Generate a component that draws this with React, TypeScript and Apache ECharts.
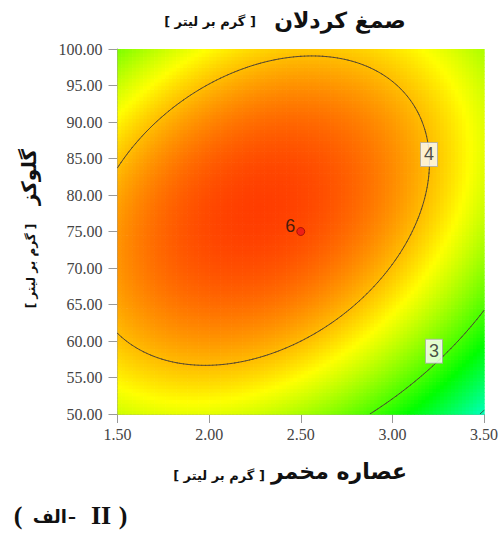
import React, { useEffect, useRef } from 'react';
import * as echarts from 'echarts';

// ---- data ----
const xRange = [1.5, 3.5]; // عصاره مخمر
const yRange = [50, 100]; // گلوکز
const xInterval = 0.5;
const yInterval = 5;
// quadratic response-surface model in coded units (A = x, B = y), estimated from contour shapes
const modelTerms = ['Intercept', 'A', 'B', 'AB', 'A2', 'B2'];
const modelCoeffs = [4.45, -0.347, 0.28, 0.443, -0.645, -0.78];
const contourLevels = [2, 3, 4];
const labeledLevels = [4, 3];
const labelAnchors = [
  [3.2, 85.55],
  [3.227, 58.6],
];
const designPoints = [[2.5, 75]];
const designPointCounts = [6];
const colorStops = ['#00ffff', '#00ff00', '#ffff00', '#ff0000'];
const colorMin = 1.7;
const colorMax = 4.75;

const N = 100;

function model(x: number, y: number) {
  const A = (x - (xRange[0] + xRange[1]) / 2) / ((xRange[1] - xRange[0]) / 2);
  const B = (y - (yRange[0] + yRange[1]) / 2) / ((yRange[1] - yRange[0]) / 2);
  const c = modelCoeffs;
  return c[0] + c[1] * A + c[2] * B + c[3] * A * B + c[4] * A * A + c[5] * B * B;
}

function buildData() {
  const dx = (xRange[1] - xRange[0]) / N;
  const dy = (yRange[1] - yRange[0]) / N;
  const cells: number[][] = [];
  for (let i = 0; i < N; i++) {
    for (let j = 0; j < N; j++) {
      const x = xRange[0] + (i + 0.5) * dx;
      const y = yRange[0] + (j + 0.5) * dy;
      cells.push([x, y, model(x, y)]);
    }
  }
  const nodes: number[][] = [];
  for (let i = 0; i <= N; i++) {
    nodes.push([]);
    for (let j = 0; j <= N; j++) {
      nodes[i].push(model(xRange[0] + i * dx, yRange[0] + j * dy));
    }
  }
  const segs: number[][] = [];
  for (const lv of contourLevels) {
    for (let i = 0; i < N; i++) {
      for (let j = 0; j < N; j++) {
        const x0 = xRange[0] + i * dx;
        const y0 = yRange[0] + j * dy;
        const corners = [
          [x0, y0, nodes[i][j]],
          [x0 + dx, y0, nodes[i + 1][j]],
          [x0 + dx, y0 + dy, nodes[i + 1][j + 1]],
          [x0, y0 + dy, nodes[i][j + 1]],
        ];
        const pts: number[][] = [];
        for (let k = 0; k < 4; k++) {
          const a = corners[k];
          const b = corners[(k + 1) % 4];
          if ((a[2] - lv) * (b[2] - lv) < 0) {
            const t = (lv - a[2]) / (b[2] - a[2]);
            pts.push([a[0] + t * (b[0] - a[0]), a[1] + t * (b[1] - a[1])]);
          }
        }
        if (pts.length >= 2) segs.push([pts[0][0], pts[0][1], pts[1][0], pts[1][1], lv]);
        if (pts.length === 4) segs.push([pts[2][0], pts[2][1], pts[3][0], pts[3][1], lv]);
      }
    }
  }
  return { cells, segs, dx, dy };
}

const arFont = 'DejaVu Sans';
const serifFont = 'Liberation Serif';
const sansFont = 'Liberation Sans';

function txt(x: number, y: number, text: string, font: string, size: number, rotation = 0, align = 'center') {
  return {
    type: 'text',
    x,
    y,
    rotation,
    silent: true,
    style: {
      text,
      fontFamily: font,
      fontSize: size,
      fontWeight: 'bold',
      fill: '#111',
      align,
      verticalAlign: 'middle',
    },
  };
}

export default function App() {
  const ref = useRef<HTMLDivElement>(null);
  useEffect(() => {
    if (!ref.current) return;
    const chart = echarts.init(ref.current, undefined, { renderer: 'svg' });
    const { cells, segs, dx, dy } = buildData();
    const axisLabel = {
      fontFamily: serifFont,
      fontSize: 16,
      color: '#444',
      formatter: (v: number) => v.toFixed(2),
    };
    chart.setOption({
      animation: false,
      backgroundColor: '#ffffff',
      textStyle: { fontFamily: serifFont },
      grid: { left: 117.5, top: 49, right: 19, bottom: 123 },
      xAxis: {
        type: 'value',
        min: xRange[0],
        max: xRange[1],
        interval: xInterval,
        axisLine: { show: true, lineStyle: { color: '#999', width: 1 } },
        axisTick: { show: true, length: 9, lineStyle: { color: '#999' } },
        axisLabel: { ...axisLabel, margin: 12 },
        splitLine: { show: false },
      },
      yAxis: {
        type: 'value',
        min: yRange[0],
        max: yRange[1],
        interval: yInterval,
        axisLine: { show: true, lineStyle: { color: '#999', width: 1 } },
        axisTick: { show: true, length: 9, lineStyle: { color: '#999' } },
        axisLabel: { ...axisLabel, margin: 15 },
        splitLine: { show: false },
      },
      visualMap: {
        type: 'continuous',
        show: false,
        min: colorMin,
        max: colorMax,
        dimension: 2,
        seriesIndex: 0,
        inRange: { color: colorStops },
      },
      series: [
        {
          type: 'custom',
          silent: true,
          clip: true,
          z: 1,
          data: cells,
          encode: { x: 0, y: 1 },
          renderItem: (params: any, api: any) => {
            const x = api.value(0);
            const y = api.value(1);
            const p1 = api.coord([x - dx / 2, y + dy / 2]);
            const p2 = api.coord([x + dx / 2, y - dy / 2]);
            return {
              type: 'rect',
              shape: { x: p1[0], y: p1[1], width: p2[0] - p1[0] + 0.7, height: p2[1] - p1[1] + 0.7 },
              style: { fill: api.visual('color') },
            };
          },
        },
        {
          type: 'custom',
          silent: true,
          clip: true,
          z: 2,
          data: segs,
          encode: { x: [0, 2], y: [1, 3] },
          renderItem: (params: any, api: any) => {
            const a = api.coord([api.value(0), api.value(1)]);
            const b = api.coord([api.value(2), api.value(3)]);
            return {
              type: 'line',
              shape: { x1: a[0], y1: a[1], x2: b[0], y2: b[1] },
              style: { stroke: '#4a4034', lineWidth: 0.9, lineCap: 'round' },
            };
          },
        },
        {
          type: 'scatter',
          z: 5,
          symbolSize: 0,
          silent: true,
          data: labelAnchors.map((p, k) => [p[0], p[1], labeledLevels[k]]),
          label: {
            show: true,
            position: 'inside',
            formatter: (p: any) => String(p.value[2]),
            fontFamily: sansFont,
            fontSize: 18,
            color: '#222',
            backgroundColor: '#ffffff',
            borderColor: '#b0b0b0',
            borderWidth: 1,
            padding: [3, 3, 2, 3],
          },
        },
        {
          type: 'scatter',
          z: 6,
          symbol: 'circle',
          symbolSize: 8,
          silent: true,
          data: designPoints.map((p, k) => [p[0], p[1], designPointCounts[k]]),
          itemStyle: { color: '#e8141c', borderColor: '#7a0000', borderWidth: 0.8 },
          label: {
            show: true,
            position: 'left',
            distance: 1,
            offset: [0, -6],
            formatter: (p: any) => String(p.value[2]),
            fontFamily: sansFont,
            fontSize: 18,
            color: '#111',
          },
        },
      ],
      graphic: [
        // title
        txt(340, 20, 'صمغ کردلان', arFont, 22),
        txt(210, 21, '[ گرم بر لیتر ]', arFont, 13),
        // x axis name
        txt(339, 471, 'عصاره مخمر', arFont, 22),
        txt(219, 475, '[ گرم بر لیتر ]', arFont, 13),
        // y axis name
        txt(29, 177, 'گلوکز', arFont, 20, Math.PI / 2),
        txt(31, 266, '[ گرم بر لیتر ]', arFont, 12, Math.PI / 2),
        // panel label
        txt(18, 515, '(', serifFont, 26),
        txt(67, 516, 'الف', arFont, 18, 0, 'right'),
        txt(68, 516, '-', serifFont, 24, 0, 'left'),
        txt(101, 515, 'II', serifFont, 26),
        txt(123, 515, ')', serifFont, 26),
      ],
    });
    return () => chart.dispose();
  }, []);
  return (
    <div
      ref={ref}
      style={{ position: 'fixed', left: 0, top: 0, width: 503, height: 537, background: '#fff' }}
    />
  );
}
